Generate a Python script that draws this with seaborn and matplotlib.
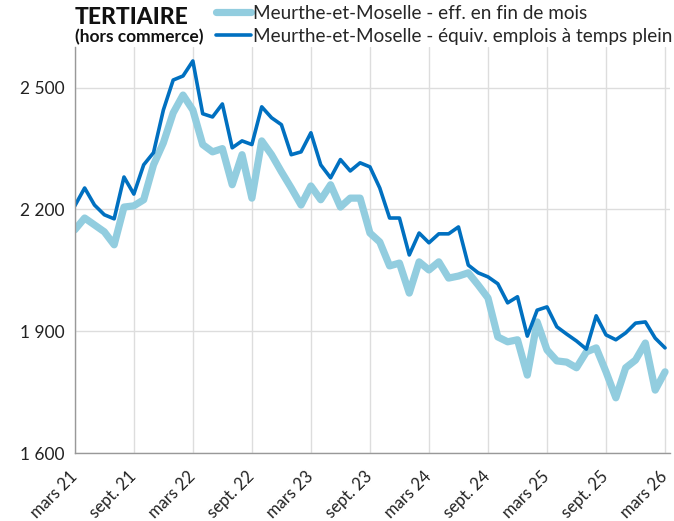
import numpy as np
import pandas as pd
import matplotlib
matplotlib.use("Agg")
import matplotlib.pyplot as plt
import seaborn as sns

# monthly values, mars 2021 -> mars 2026
eff_fin_mois = [2150, 2179, 2162, 2145, 2113, 2206, 2209, 2224, 2310, 2364,
                2438, 2482, 2445, 2360, 2342, 2350, 2261, 2335, 2228, 2369,
                2335, 2293, 2253, 2211, 2258, 2224, 2261, 2206, 2228, 2228,
                2142, 2120, 2061, 2068, 1994, 2071, 2051, 2071, 2031, 2036,
                2044, 2014, 1982, 1886, 1874, 1879, 1792, 1923, 1854, 1827,
                1824, 1810, 1849, 1859, 1800, 1736, 1810, 1829, 1871, 1755,
                1800]
equiv_etp = [2209, 2253, 2211, 2187, 2177, 2280, 2238, 2310, 2340, 2445,
             2519, 2529, 2566, 2436, 2428, 2460, 2352, 2369, 2360, 2453,
             2426, 2409, 2335, 2342, 2389, 2310, 2278, 2323, 2295, 2315,
             2305, 2253, 2179, 2179, 2088, 2142, 2118, 2140, 2140, 2157,
             2063, 2044, 2034, 2017, 1970, 1985, 1888, 1952, 1960, 1911,
             1893, 1876, 1856, 1938, 1891, 1879, 1896, 1920, 1923, 1883,
             1859]
tick_labels = ["mars 21", "sept. 21", "mars 22", "sept. 22", "mars 23",
               "sept. 23", "mars 24", "sept. 24", "mars 25", "sept. 25",
               "mars 26"]
y_ticks = [1600, 1900, 2200, 2500]

lab_eff = "Meurthe-et-Moselle - eff. en fin de mois"
lab_etp = "Meurthe-et-Moselle - équiv. emplois à temps plein"

df = pd.DataFrame({"mois": np.arange(len(eff_fin_mois)),
                   lab_eff: eff_fin_mois, lab_etp: equiv_etp})
long = df.melt(id_vars="mois", var_name="serie", value_name="valeur")

sns.set_style("white")
plt.rcParams["font.family"] = ["Lato", "DejaVu Sans"]

fig = plt.figure(figsize=(6.74, 5.21), dpi=100)
ax = fig.add_axes([0.111, 0.1305, 0.883, 0.779])

sns.lineplot(data=long, x="mois", y="valeur", hue="serie", size="serie",
             palette={lab_eff: "#92cddf", lab_etp: "#0070c0"},
             sizes={lab_eff: 5.2, lab_etp: 2.6}, ax=ax,
             solid_joinstyle="round", solid_capstyle="round")

ax.set_xlim(0, 60.5)
ax.set_ylim(1600, 2600)
ax.set_xticks(np.arange(0, 61, 6))
ax.set_xticklabels(tick_labels, rotation=45, ha="right", va="center",
                   rotation_mode="anchor", fontsize=12, color="#222222")
ax.set_yticks(y_ticks)
ax.set_yticklabels([f"{v:,}".replace(",", " ") for v in y_ticks],
                   fontsize=12.5, color="#222222")
ax.set_xlabel("")
ax.set_ylabel("")
ax.grid(True, color="#dddddd", linewidth=1)
ax.tick_params(axis="both", length=4, color="#999999", width=1)
ax.tick_params(axis="x", pad=11)
for s in ["top", "right"]:
    ax.spines[s].set_visible(False)
for s in ["left", "bottom"]:
    ax.spines[s].set_color("#999999")
    ax.spines[s].set_linewidth(1)

handles, labels = ax.get_legend_handles_labels()
ax.legend(handles, labels, loc="upper left", bbox_to_anchor=(0.318, 0.994),
          bbox_transform=fig.transFigure, frameon=False, fontsize=13.6,
          handlelength=1.85, handletextpad=0.1, labelspacing=0.32,
          borderaxespad=0, borderpad=0.1)

fig.text(0.111, 0.967, "TERTIAIRE", fontsize=16.5, fontweight="black",
         color="#111111", va="center", ha="left")
fig.text(0.111, 0.929, "(hors commerce)", fontsize=12.5, fontweight="bold",
         color="#111111", va="center", ha="left")

fig.savefig("out.png", dpi=100)
